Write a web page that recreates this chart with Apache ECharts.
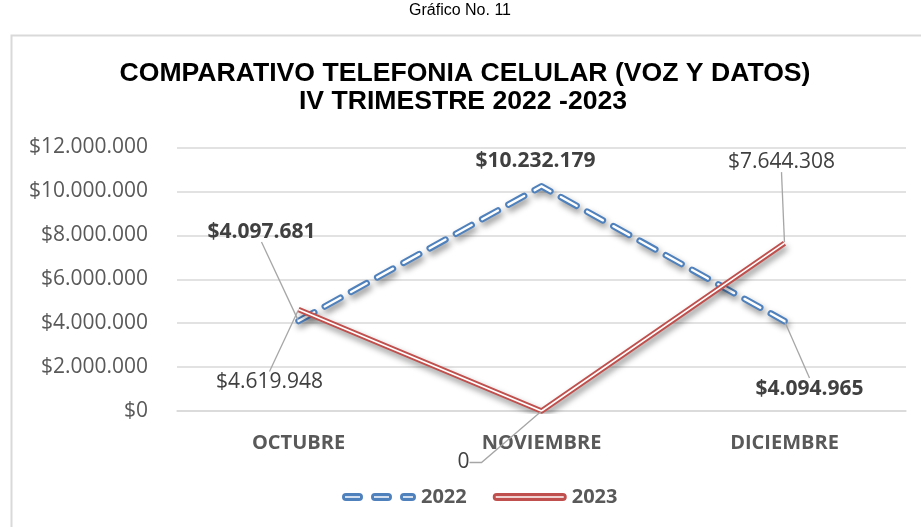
<!DOCTYPE html>
<html>
<head>
<meta charset="utf-8">
<script src="https://cdn.jsdelivr.net/npm/echarts@6/dist/echarts.min.js"></script>
<style>
  html, body { margin: 0; padding: 0; background: #fff; }
  #chart { width: 921px; height: 527px; }
</style>
</head>
<body>
<div id="chart"></div>
<script>
// Quarterly cell phone spending (voice & data), Q4 2022 vs Q4 2023
const months = ['OCTUBRE', 'NOVIEMBRE', 'DICIEMBRE'];
const values2022 = [4097681, 10232179, 4094965];
const values2023 = [4619948, 0, 7644308];
const yTicks = { min: 0, max: 12000000, interval: 2000000 };

// Label offsets (px) from the default "top" position, per point
const shift2022 = [[-37, -73], [-6, -9], [25, 84]];
const shift2023 = [[-29, 89], [-78, 68], [-3, -65]];
// Leader line: null = hidden, otherwise length of the short elbow next to the label
const leader2022 = [0, null, 0];
const leader2023 = [0, 12, 0];

const BLUE = '#4F81BD';
const RED = '#C0504D';

function money(v) {
  return '$' + String(v).replace(/\B(?=(\d{3})+(?!\d))/g, '.');
}

// Legend glyph: rounded capsules with a thin hollow stripe in the middle
function capsules(spans, h) {
  const r = h / 2;
  let d = '';
  spans.forEach(function (s) {
    const a = s[0], b = s[1];
    d += 'M' + (a + r) + ',0 L' + (b - r) + ',0 A' + r + ',' + r + ' 0 0 1 ' + (b - r) + ',' + h +
         ' L' + (a + r) + ',' + h + ' A' + r + ',' + r + ' 0 0 1 ' + (a + r) + ',0 Z ';
    d += 'M' + (a + r - 1) + ',' + (r - 0.8) + ' L' + (a + r - 1) + ',' + (r + 0.8) +
         ' L' + (b - r + 1) + ',' + (r + 0.8) + ' L' + (b - r + 1) + ',' + (r - 0.8) + ' Z ';
  });
  return 'path://' + d;
}

function points(values, leaders) {
  return values.map(function (v, i) {
    const l = leaders[i];
    return { value: v, labelLine: l === null ? { show: false } : { show: true, length2: l } };
  });
}

const shadow = { shadowColor: 'rgba(0,0,0,0.42)', shadowBlur: 6, shadowOffsetX: 2, shadowOffsetY: 4 };

const chart = echarts.init(document.getElementById('chart'), null, { renderer: 'canvas' });

chart.setOption({
  animation: false,
  backgroundColor: '#fff',
  graphic: [
    { type: 'rect', left: 9, top: 33, shape: { width: 940, height: 520 },
      style: { fill: 'none', stroke: '#D9D9D9', lineWidth: 2 }, z: -1 },
    { type: 'text', x: 460, y: 11, style: { text: 'Gráfico No. 11', fill: '#000',
      font: '16px "Liberation Sans", Arial, sans-serif', textAlign: 'center', textVerticalAlign: 'middle' } },
    { type: 'text', x: 465, y: 74, style: { text: 'COMPARATIVO TELEFONIA CELULAR (VOZ Y DATOS)', fill: '#000',
      font: 'bold 26.6px "Liberation Sans", Arial, sans-serif', textAlign: 'center', textVerticalAlign: 'middle' } },
    { type: 'text', x: 463, y: 102, style: { text: 'IV TRIMESTRE 2022 -2023', fill: '#000',
      font: 'bold 26.6px "Liberation Sans", Arial, sans-serif', textAlign: 'center', textVerticalAlign: 'middle' } }
  ],
  grid: { left: 177, right: 15, top: 147.5, bottom: 116, containLabel: false },
  legend: {
    left: 337, top: 482, itemWidth: 74, itemHeight: 8, itemGap: 26,
    textStyle: { fontFamily: 'Open Sans', fontSize: 20, fontWeight: 'bold', color: '#595959' },
    data: [
      { name: '2022', icon: capsules([[0, 21], [29, 50], [58, 74]], 8), itemStyle: { color: BLUE, borderWidth: 0 } },
      { name: '2023', icon: capsules([[0, 74]], 8), itemStyle: { color: RED, borderWidth: 0 } }
    ]
  },
  xAxis: {
    type: 'category', data: months, boundaryGap: true,
    axisLine: { show: true, lineStyle: { color: '#D9D9D9', width: 1.5 } },
    axisTick: { show: false },
    axisLabel: { margin: 22, fontFamily: 'Open Sans', fontSize: 20, fontWeight: 'bold', color: '#595959' }
  },
  yAxis: {
    type: 'value', min: yTicks.min, max: yTicks.max, interval: yTicks.interval,
    axisLine: { show: false }, axisTick: { show: false },
    splitLine: { lineStyle: { color: '#D9D9D9', width: 1.5 } },
    axisLabel: { margin: 29, fontFamily: 'Open Sans', fontSize: 21, color: '#595959', formatter: money }
  },
  series: [
    {
      name: '2022', type: 'line', data: points(values2022, leader2022), z: 2,
      symbol: 'circle', symbolSize: 2, showSymbol: true,
      itemStyle: { color: 'rgba(0,0,0,0)', borderWidth: 0 },
      lineStyle: Object.assign({ color: BLUE, width: 6.5, type: [18, 12], cap: 'round', join: 'round' }, shadow),
      label: { show: true, position: 'top', fontFamily: 'Open Sans', fontSize: 21, fontWeight: 'bold',
        color: '#404040', formatter: function (p) { return p.value === 0 ? '0' : money(p.value); } },
      labelLine: { show: true, length2: 0, lineStyle: { color: '#A6A6A6', width: 1.3 } },
      labelLayout: function (p) { return { dx: shift2022[p.dataIndex][0], dy: shift2022[p.dataIndex][1] }; },
      emphasis: { disabled: true }
    },
    {
      name: '2022', type: 'line', data: values2022, z: 3, silent: true, showSymbol: false, symbol: 'none',
      lineStyle: { color: '#fff', width: 2.4, type: [18, 12], cap: 'round', join: 'round' },
      emphasis: { disabled: true }
    },
    {
      name: '2023', type: 'line', data: points(values2023, leader2023), z: 4,
      symbol: 'circle', symbolSize: 2, showSymbol: true,
      itemStyle: { color: 'rgba(0,0,0,0)', borderWidth: 0 },
      lineStyle: Object.assign({ color: RED, width: 5.5, type: 'solid', cap: 'butt', join: 'miter' }, shadow),
      label: { show: true, position: 'top', fontFamily: 'Open Sans', fontSize: 21, fontWeight: 'normal',
        color: '#404040', formatter: function (p) { return p.value === 0 ? '0' : money(p.value); } },
      labelLine: { show: true, length2: 0, lineStyle: { color: '#A6A6A6', width: 1.3 } },
      labelLayout: function (p) { return { dx: shift2023[p.dataIndex][0], dy: shift2023[p.dataIndex][1] }; },
      emphasis: { disabled: true }
    },
    {
      name: '2023', type: 'line', data: values2023, z: 5, silent: true, showSymbol: false, symbol: 'none',
      lineStyle: { color: '#fff', width: 1.6, type: 'solid', cap: 'butt', join: 'miter' },
      emphasis: { disabled: true }
    }
  ]
});
</script>
</body>
</html>
